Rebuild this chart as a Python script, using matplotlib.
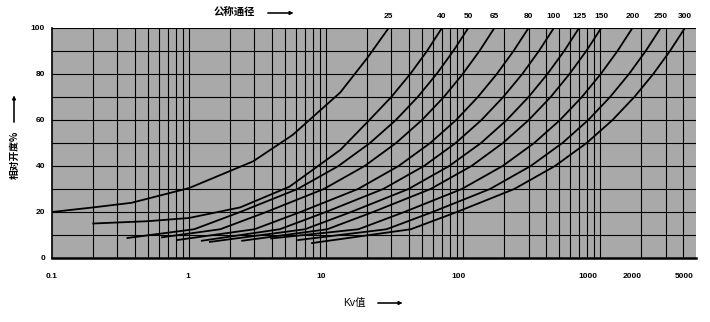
import numpy as np
import matplotlib.pyplot as plt
import matplotlib.transforms as mtransforms

plt.rcParams['font.family'] = ['Liberation Sans', 'Noto Sans CJK SC', 'DejaVu Sans']

# curve data: Kv value vs relative opening %
dn_labels = ['25', '40', '50', '65', '80', '100', '125', '150', '200', '250', '300']

kv_25 = [0.1, 0.2, 0.38, 1, 2.93, 5.7, 12.7, 20, 28.6]
h_25 = [20, 22, 24, 30.4, 42, 53.5, 72, 87, 100]

kv_40 = [0.2, 0.5, 1, 2.36, 5.4, 12.7, 20.7, 29.9, 41.1, 54.5, 70]
h_40 = [15, 16, 17.4, 22, 31, 47, 60, 70, 80, 90, 100]

kv_50 = [0.355, 1.09, 2.36, 6.19, 12.3, 20.9, 32.3, 46.6, 64.0, 84.7, 109]
kv_65 = [0.635, 1.69, 3.66, 9.62, 19.1, 32.4, 50.1, 72.3, 99.3, 131.5, 169]
kv_80 = [0.817, 3.0, 6.5, 17.1, 33.8, 57.5, 88.9, 128, 176, 233, 300]
kv_100 = [1.24, 4.59, 9.95, 26.1, 51.8, 88.1, 136, 196, 270, 357, 459]
kv_125 = [1.42, 7.01, 15.2, 39.9, 79.1, 135, 208, 300, 412, 546, 701]
kv_150 = [2.44, 10.2, 22.0, 57.8, 115, 195, 301, 435, 597, 791, 1017]
kv_200 = [3.97, 17.2, 37.2, 97.7, 194, 330, 509, 735, 1009, 1337, 1718]
kv_250 = [6.25, 27.6, 59.8, 157, 311, 530, 818, 1180, 1622, 2148, 2760]
kv_300 = [7.9, 41.5, 89.9, 236, 468, 796, 1230, 1774, 2438, 3228, 4150]

h_common = [12.5, 20, 30, 40, 50, 60, 70, 80, 90, 100]
h_start = [8.7, 9, 7.8, 7.5, 7, 7.5, 8.5, 7.8, 6.5]

curves = [(kv_25, h_25), (kv_40, h_40)]
for kv, h0 in zip([kv_50, kv_65, kv_80, kv_100, kv_125, kv_150, kv_200, kv_250, kv_300], h_start):
    curves.append((kv, [h0] + h_common))

xticks = [0.1, 1, 10, 100, 1000, 2000, 5000]
xticklabels = ['0.1', '1', '10', '100', '1000', '2000', '5000']
xlabel_shift = [0, -1, -5, -5, -12, -9, -12]   # labels sit a bit left of their lines
yticks = [0, 20, 40, 60, 80, 100]

# vertical grid: log minor lines
vlines = []
for dec in [0.1, 1, 10, 100]:
    vlines += [dec * k for k in range(2, 11)]
vlines += [2000, 3000, 4000]

fig = plt.figure(figsize=(7.1, 3.22), dpi=100)
ax = fig.add_axes([52/710, 1-258/322, 644/710, 230/322])
ax.set_facecolor('#a9a9a9')
ax.set_xscale('log')
ax.set_xlim(0.1, 5000)
ax.set_ylim(0, 100)

for v in vlines:
    ax.axvline(v, color='black', lw=0.8, zorder=1)
for y in range(10, 101, 10):
    ax.axhline(y, color='black', lw=0.8, zorder=1)

for kv, h in curves:
    ax.plot(kv, h, color='black', lw=1.3, zorder=3)

ax.set_xticks(xticks)
ax.set_xticklabels(xticklabels)
ax.minorticks_off()
ax.set_yticks(yticks)
ax.tick_params(length=0, labelsize=6)
ax.tick_params(axis='x', pad=11)
ax.tick_params(axis='y', pad=5)
for lab in ax.get_xticklabels() + ax.get_yticklabels():
    lab.set_fontweight('bold')
for lab, dx in zip(ax.get_xticklabels(), xlabel_shift):
    lab.set_transform(lab.get_transform() + mtransforms.ScaledTranslation(dx/100, 0, fig.dpi_scale_trans))

for side in ['top', 'right']:
    ax.spines[side].set_visible(False)
ax.spines['left'].set_linewidth(1.2)
ax.spines['bottom'].set_linewidth(1.8)

# DN labels above the curve ends
for (kv, h), lab in zip(curves, dn_labels):
    ax.text(kv[-1], 1.05, lab, transform=ax.get_xaxis_transform(),
            ha='center', va='center', fontsize=6, fontweight='bold')

fig.text(234/710, 1-13/322, '公称通径', ha='center', va='center', fontsize=7.5,
         fontweight='bold', family=['Noto Sans CJK SC'])
fig.text(354/710, 1-303/322, 'Kv值', ha='center', va='center', fontsize=7.5,
         family=['Liberation Sans', 'Noto Sans CJK SC'])
fig.text(15/710, 1-155/322, '相对开度%', ha='center', va='center', fontsize=7,
         fontweight='bold', rotation=90, family=['Noto Sans CJK SC'])

arrow = dict(arrowstyle='-|>', color='black', lw=0.8, mutation_scale=5)
fig.add_artist(plt.annotate('', xy=(296/710, 1-13/322), xytext=(265/710, 1-13/322),
                            xycoords='figure fraction', arrowprops=arrow))
fig.add_artist(plt.annotate('', xy=(405/710, 1-303/322), xytext=(375/710, 1-303/322),
                            xycoords='figure fraction', arrowprops=arrow))
fig.add_artist(plt.annotate('', xy=(14/710, 1-93/322), xytext=(14/710, 1-125/322),
                            xycoords='figure fraction', arrowprops=arrow))

plt.savefig('out.png', dpi=100)
